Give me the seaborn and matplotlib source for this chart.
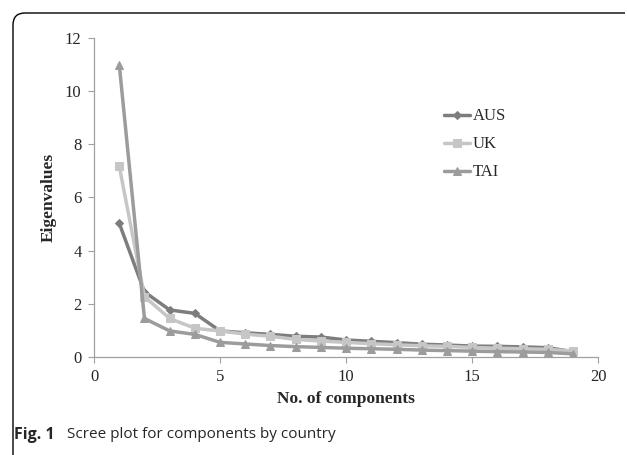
import matplotlib
matplotlib.use("Agg")
import matplotlib.pyplot as plt
import pandas as pd
import seaborn as sns
from matplotlib.path import Path
from matplotlib.patches import PathPatch

# Data
components = list(range(1, 20))
aus = [5.03, 2.45, 1.77, 1.64, 0.98, 0.91, 0.85, 0.78, 0.75, 0.64, 0.59, 0.54, 0.48, 0.45, 0.41, 0.40, 0.38, 0.35, 0.20]
uk = [7.18, 2.27, 1.45, 1.08, 0.98, 0.86, 0.78, 0.66, 0.60, 0.55, 0.50, 0.46, 0.42, 0.40, 0.36, 0.33, 0.31, 0.29, 0.22]
tai = [11.0, 1.45, 0.98, 0.85, 0.55, 0.49, 0.43, 0.39, 0.36, 0.33, 0.31, 0.29, 0.26, 0.24, 0.22, 0.20, 0.19, 0.17, 0.12]

colors = {"AUS": "#7d7d7d", "UK": "#c6c6c6", "TAI": "#9c9c9c"}
markers = {"AUS": "D", "UK": "s", "TAI": "^"}
msizes = {"AUS": 4, "UK": 6, "TAI": 6}

df = pd.DataFrame({"comp": components * 3,
                   "value": aus + uk + tai,
                   "country": ["AUS"] * 19 + ["UK"] * 19 + ["TAI"] * 19})

sns.set_style("white")
plt.rcParams["font.family"] = ["Liberation Serif", "DejaVu Serif"]

fig = plt.figure(figsize=(6.27, 4.55), dpi=100)
ax = fig.add_axes([0.15, 0.2154, 0.804, 0.7011])

for name in ["AUS", "UK", "TAI"]:
    sub = df[df["country"] == name]
    sns.lineplot(data=sub, x="comp", y="value", ax=ax, color=colors[name],
                 marker=markers[name], markersize=msizes[name], linewidth=2.5,
                 markeredgecolor=colors[name], label=name)

ax.set_xlim(0, 20)
ax.set_ylim(0, 12)
ax.set_xticks([0, 5, 10, 15, 20])
ax.set_yticks([0, 2, 4, 6, 8, 10, 12])
ax.tick_params(axis="both", labelsize=12, length=4, width=0.8, color="#a0a0a0",
               direction="out", left=True, bottom=True, pad=5)
for s in ["top", "right"]:
    ax.spines[s].set_visible(False)
for s in ["left", "bottom"]:
    ax.spines[s].set_color("#a0a0a0")
    ax.spines[s].set_linewidth(0.9)

ax.set_xlabel("No. of components", fontsize=12.5, fontweight="bold", labelpad=4)
ax.set_ylabel("Eigenvalues", fontsize=12.5, fontweight="bold", labelpad=6)

leg = ax.legend(loc="upper left", bbox_to_anchor=(0.68, 0.80), frameon=False,
                fontsize=12, handlelength=1.6, handletextpad=0.15,
                labelspacing=0.72, borderaxespad=0)

# caption
fig.text(0.022, 0.045, "Fig. 1", fontsize=11.5, fontweight="bold",
         fontstretch="normal", family=["Open Sans", "DejaVu Sans"], va="center")
fig.text(0.107, 0.045, "Scree plot for components by country", fontsize=11,
         family=["Open Sans", "DejaVu Sans"], va="center")

# frame with rounded top-left corner
x0, y0 = 13 / 627, 1 - 13 / 455
rx, ry = 12 / 627, 12 / 455
verts = [(x0, 0.0), (x0, y0 - ry), (x0, y0), (x0 + rx, y0), (1 - 2 / 627, y0)]
codes = [Path.MOVETO, Path.LINETO, Path.CURVE3, Path.CURVE3, Path.LINETO]
fig.patches.append(PathPatch(Path(verts, codes), fill=False, edgecolor="black",
                             linewidth=1.0, transform=fig.transFigure))

fig.savefig("out.png", dpi=100)
